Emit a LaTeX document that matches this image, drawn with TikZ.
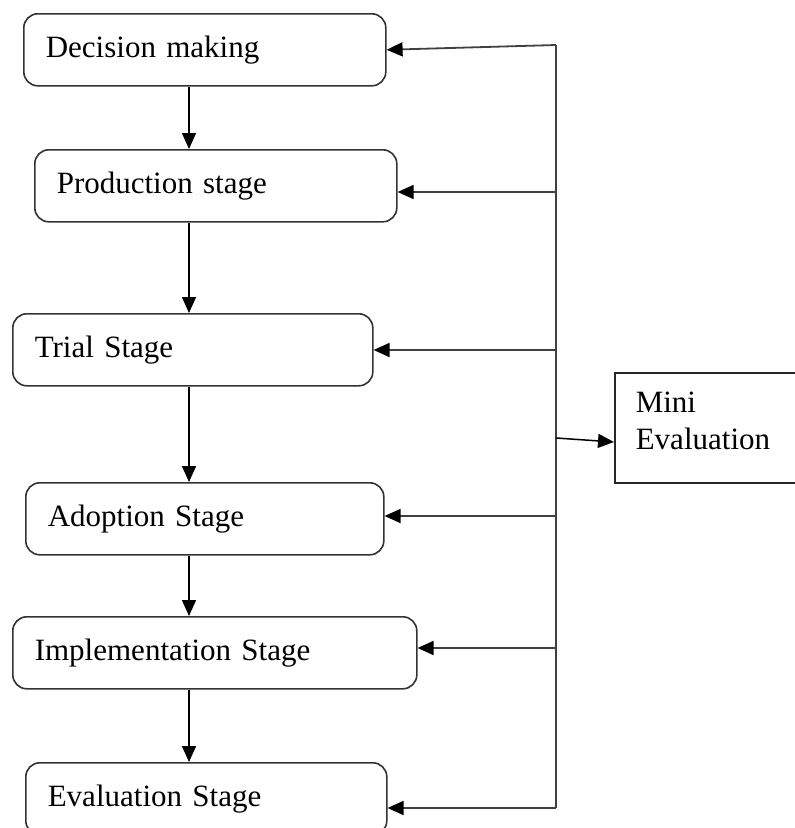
\documentclass[tikz,border=0pt]{standalone}
\usepackage{fontspec}
\setmainfont{Liberation Serif}
\usetikzlibrary{arrows.meta}
\begin{document}
\begin{tikzpicture}[x=1pt,y=-1pt,
  stagebox/.style={draw=black!80, line width=1.6pt, rounded corners=14pt,
    anchor=north west, minimum height=72pt, inner xsep=22pt, inner ysep=0pt,
    align=left, font=\fontsize{31}{37.2}\selectfont},
  minibox/.style={draw=black!85, line width=1.6pt, anchor=north west,
    minimum height=110pt, inner xsep=21pt, inner ysep=0pt, align=left,
    font=\fontsize{31}{37.2}\selectfont},
  arr/.style={draw=black, line width=1.5pt,
    -{Triangle[length=16pt,width=14pt,color=black]}},
  fb/.style={draw=black!75, line width=1.8pt}]
\clip (0,0) rectangle (795,828);
\useasboundingbox (0,0) rectangle (795,828);
% stage boxes
\node[stagebox, text width=318pt] (b1) at (23,13) {\strut Decision making};
\node[stagebox, text width=318pt] (b2) at (34,149) {\strut Production stage};
\node[stagebox, text width=316pt] (b3) at (12,313) {\strut Trial Stage};
\node[stagebox, text width=314pt] (b4) at (25,482) {\strut Adoption Stage};
\node[stagebox, text width=360pt] (b5) at (12,616) {\strut Implementation Stage};
\node[stagebox, text width=317pt] (b6) at (25,762) {\strut Evaluation Stage};
% mini evaluation box
\node[minibox, text width=208pt] (mini) at (614,372)
  {\strut Mini\\Evaluation\rule[-19pt]{0pt}{19pt}};
% downward connectors
\coordinate (mid) at (189,0);
\draw[arr] (mid |- b1.south) -- (mid |- b2.north);
\draw[arr] (mid |- b2.south) -- (mid |- b3.north);
\draw[arr] (mid |- b3.south) -- (mid |- b4.north);
\draw[arr] (mid |- b4.south) -- (mid |- b5.north);
\draw[arr] (mid |- b5.south) -- (mid |- b6.north);
% feedback spine
\coordinate (s1) at (556,45);
\coordinate (s2) at (556,192);
\coordinate (s3) at (556,350);
\coordinate (sm) at (556,438);
\coordinate (s4) at (556,516);
\coordinate (s5) at (556,648);
\coordinate (s6) at (556,808);
\draw[fb] (s1) -- (s6);
\draw[arr, fb] (s1) -- (b1.east);
\draw[arr, fb] (s2) -- (s2 -| b2.east);
\draw[arr, fb] (s3) -- (s3 -| b3.east);
\draw[arr, fb] (s4) -- (s4 -| b4.east);
\draw[arr, fb] (s5) -- (s5 -| b5.east);
\draw[arr, fb] (s6) -- (s6 -| b6.east);
\draw[arr] (sm) -- ([yshift=-4pt]sm -| mini.west);
\end{tikzpicture}
\end{document}
